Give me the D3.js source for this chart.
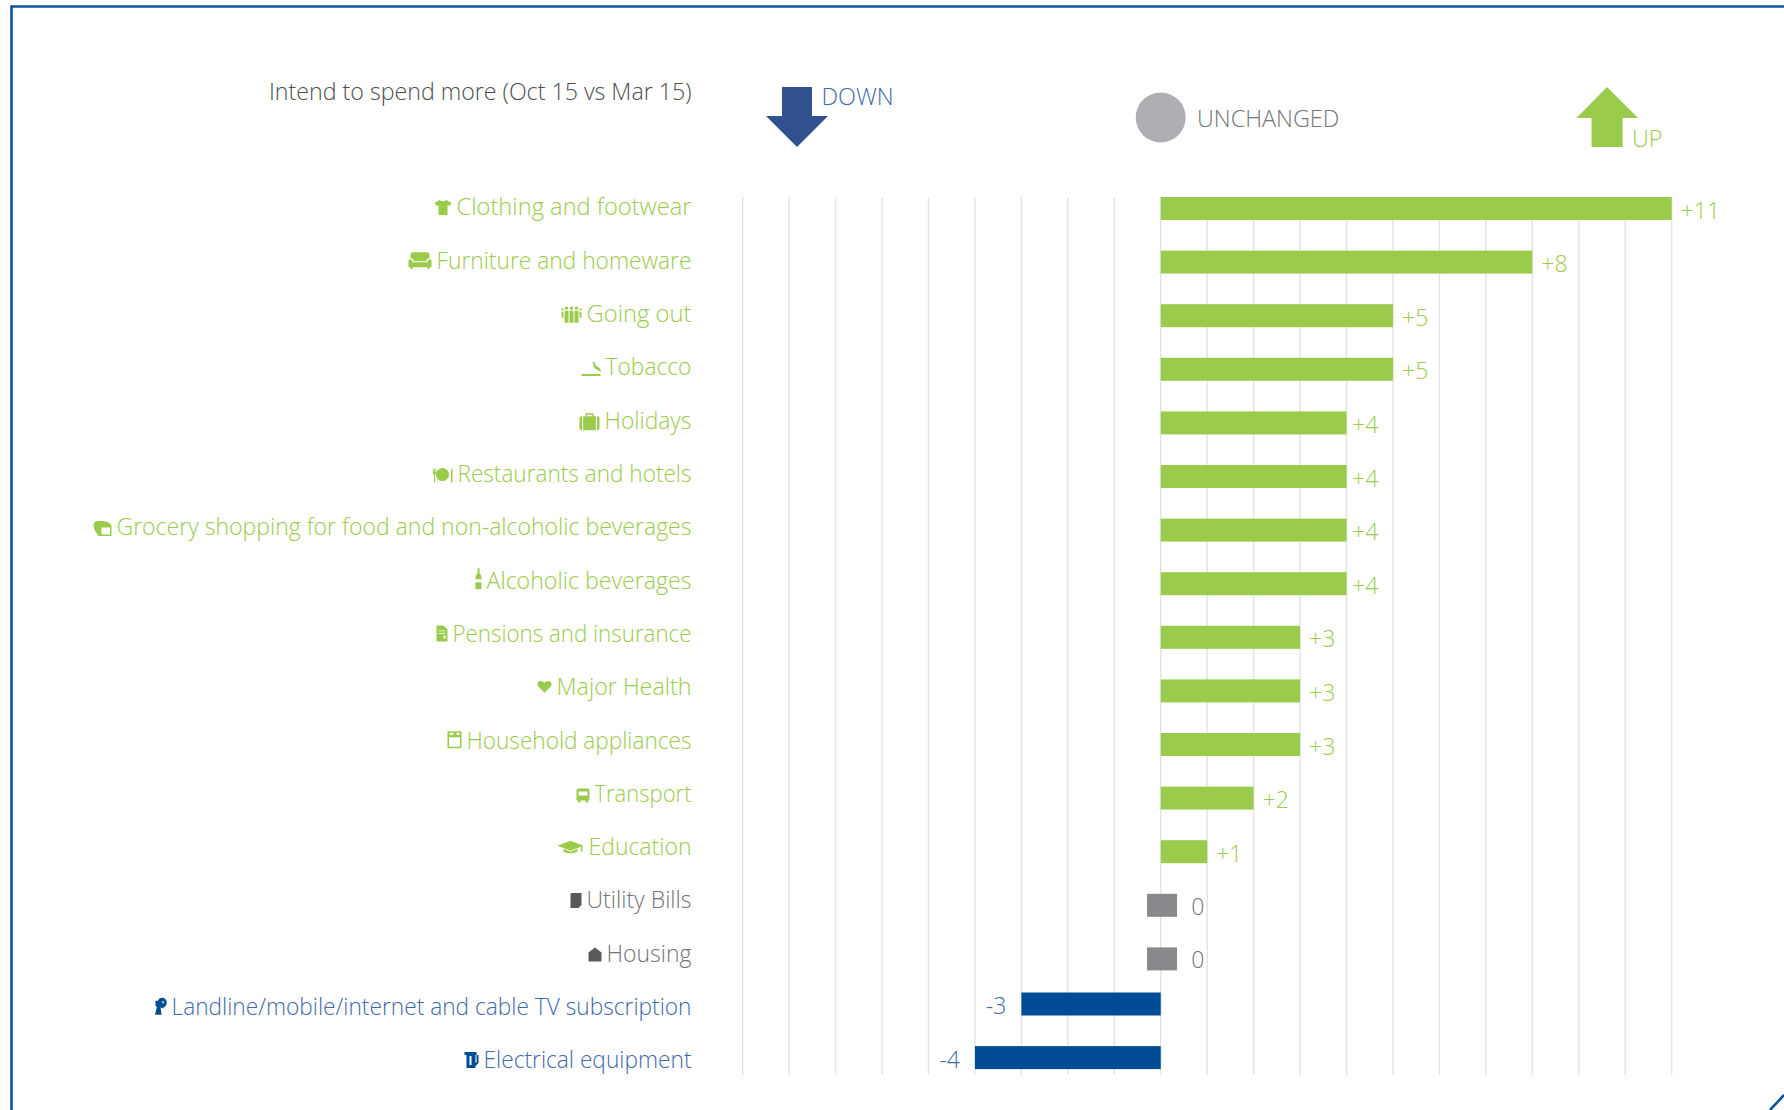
<!DOCTYPE html>
<html>
<head>
<meta charset="utf-8">
<script src="https://cdn.jsdelivr.net/npm/d3@7"></script>
<style>
  html, body { margin: 0; padding: 0; background: #fff; }
  svg { display: block; }
  text { font-family: "Open Sans", sans-serif; font-weight: 300; }
</style>
</head>
<body>
<svg id="chart" width="1784" height="1110"></svg>
<script>
// Spending intentions by category, net change between two survey waves
const categories = [
  "Clothing and footwear", "Furniture and homeware", "Going out", "Tobacco",
  "Holidays", "Restaurants and hotels",
  "Grocery shopping for food and non-alcoholic beverages", "Alcoholic beverages",
  "Pensions and insurance", "Major Health", "Household appliances", "Transport",
  "Education", "Utility Bills", "Housing",
  "Landline/mobile/internet and cable TV subscription", "Electrical equipment"
];
const values = [11, 8, 5, 5, 4, 4, 4, 4, 3, 3, 3, 2, 1, 0, 0, -3, -4];
const iconNames = [
  "shirt", "sofa", "people", "cigarette", "suitcase", "plate", "bread", "bottle",
  "document", "heart", "oven", "bus", "cap", "bill", "house", "dish", "kettle"
];
const titleText = "Intend to spend more (Oct 15 vs Mar 15)";
const legendLabels = ["DOWN", "UNCHANGED", "UP"];

// Left edge of each category label; the text is fitted between this and the right margin
const labelLeft = [458, 438, 588, 607, 606, 459, 118, 488, 454, 558, 468, 596, 590, 588, 608, 173, 485];

const GREEN = "#9bcb4b", BLUE = "#004b93", GREY_BAR = "#87898c";
const TEXT_BLUE = "#3f68ad", TEXT_GREY = "#737477";
const fillFor = v => v > 0 ? GREEN : v < 0 ? BLUE : GREY_BAR;
const textFor = v => v > 0 ? GREEN : v < 0 ? TEXT_BLUE : TEXT_GREY;
const iconFor = v => v > 0 ? GREEN : v < 0 ? BLUE : "#58595b";
const signed = v => v > 0 ? "+" + v : String(v);

// Pictogram outlines: [width, height, bottom offset from baseline, path]
const glyphs = {
  shirt: [17, 15, 0, "M5,0L0,3L2,6L4,5V15H13V5L15,6L17,3L12,0Q8.5,2.5 5,0Z"],
  sofa: [23, 17, 1, "M4,0H19Q21,0 21,3V6Q18,6 18,9H5Q5,6 2,6V3Q2,0 4,0ZM1,7Q4,7 4,10H19Q19,7 22,7Q23,7 23,9V15H0V9Q0,7 1,7ZM2,15h2v2h-2ZM19,15h2v2h-2Z"],
  people: [20, 17, 1, "M3,5h4v12h-4ZM8,5h4v12h-4ZM13,5h4v12h-4ZM0,6h2v6h-2ZM18,6h2v6h-2ZM5,0.8a1.7,1.7 0 1 0 .01,0ZM10,0.8a1.7,1.7 0 1 0 .01,0ZM15,0.8a1.7,1.7 0 1 0 .01,0ZM1,2.5a1.2,1.2 0 1 0 .01,0ZM19,2.5a1.2,1.2 0 1 0 .01,0Z"],
  cigarette: [19, 14, 1, "M0,12H19V14H0ZM11,0H13L14,3L19,7V10L13,6Z"],
  suitcase: [20, 18, 2, "M0,6Q0,4 2,4H2.6V18H2Q0,18 0,16ZM3.6,4H16.4V18H3.6ZM17.4,4H18Q20,4 20,6V16Q20,18 18,18H17.4ZM6,4V1H14V4H12.6V2.4H7.4V4Z"],
  plate: [20, 17, 1, "M10,2.5a6.5,6.5 0 1 0 .01,0ZM0,3h.8v3h.6V3h.8v3h.6V3h.8v5l-1,1V17H1.5V9l-1,-1ZM18.5,4L20,3V17H18.5Z"],
  bread: [18, 15, 1, "M0,3Q1,0 5,0H10Q16,1 18,4V15H5L1,9Q0,5 0,3ZM8,6.5H16.5V13.5H8Z"],
  bottle: [6, 21, 1, "M2,0H4V5Q6,7 6,9V21H0V9Q0,7 2,5ZM0,11H6V14H0Z"],
  document: [11, 16, 0, "M0,0H7L11,4V16H0ZM2,5H9V5.8H2ZM2,7.5H9V8.3H2ZM7,10h2v3h-2Z"],
  heart: [14, 12, -2, "M7,12L1,6Q-1,3 1,1Q4,-1 7,2Q10,-1 13,1Q15,3 13,6Z"],
  oven: [14, 17, 0, "M0,0H14V17H0ZM1.5,6H12.5V15.5H1.5ZM2,1.5h4v2h-4ZM9,1.5h3v2h-3Z"],
  bus: [13, 14, 1, "M2,0H11Q13,0 13,2V12H0V2Q0,0 2,0ZM2,3V7H11V3ZM1.5,12h2.5v2h-2.5ZM9,12h2.5v2H9Z"],
  cap: [26, 13, -1, "M0,5L13,0L26,5L13,10ZM6,8L13,11L20,8V11Q13,14 6,11ZM23.5,6V11H25V5.5Z"],
  bill: [11, 15, 0, "M1,0H11V12L8,15H0V1Z"],
  house: [13, 14, 0, "M6.5,0L13,5V14H0V5Z"],
  dish: [12, 17, 0, "M4.5,1Q10,-1.5 12,3Q13.5,8 8,10.5Q6.8,10 6,9.2L7,17H0.5L2.5,9L1,8.5V3H3.5Q4,2 4.5,1ZM7,4L9.5,3.5L9,6Z"],
  kettle: [14, 16, 0, "M0,0H12V3H11V16H2V3H0ZM5,4V13H7V4ZM12,3h2v8l-3,3V11l1.2,-1Z"]
};

const svg = d3.select("#chart");

// Outer frame with the clipped lower right corner
svg.append("path")
  .attr("d", "M11.5,1110V6.5H1784M1770,1110L1784,1095")
  .attr("fill", "none").attr("stroke", "#0c559f").attr("stroke-width", 2.6);

// Scales: one for the change in points, one each for bar rows and label rows
const x = d3.scaleLinear().domain([-9, 11]).range([742.7, 1671.7]);
const barY = d3.scalePoint().domain(categories).range([197, 1054.6]);
const labelY = d3.scalePoint().domain(categories).range([215.4, 1068.4]);
const BAR_H = 23;
const DOWN_SHIFT = -8.5;    // falling categories sit slightly closer to the row above
const ZERO_W = 30;          // unchanged categories get a short centred block
const rowTop = (c, v) => barY(c) + (v < 0 ? DOWN_SHIFT : 0);

// Vertical gridlines come from the axis ticks
const gridAxis = d3.axisBottom(x)
  .tickValues(d3.range(-9, 12))
  .tickSize(-(1075 - 197))
  .tickFormat("")
  .offset(0);
svg.append("g")
  .attr("transform", "translate(0,1075)")
  .call(gridAxis)
  .call(g => g.select(".domain").remove())
  .call(g => g.selectAll("line").attr("stroke", "#e2e3e4").attr("stroke-width", 1.4));

const rows = categories.map((c, i) => ({ c, v: values[i], icon: iconNames[i], left: labelLeft[i] }));

// Bars
svg.append("g").selectAll("rect").data(rows).join("rect")
  .attr("x", d => d.v === 0 ? x(0) + 1.3 - ZERO_W / 2 : Math.min(x(0), x(d.v)))
  .attr("y", d => rowTop(d.c, d.v))
  .attr("width", d => d.v === 0 ? ZERO_W : Math.abs(x(d.v) - x(0)))
  .attr("height", BAR_H)
  .attr("fill", d => fillFor(d.v));

// Value labels; the +4 group hugs its bars a little tighter
svg.append("g").selectAll("text").data(rows).join("text")
  .attr("x", d => d.v > 0 ? x(d.v) + (d.v === 4 ? 5.5 : 9) : d.v < 0 ? x(d.v) - 15 : x(0) + 30.5)
  .attr("y", d => rowTop(d.c, d.v) + (d.v === 0 ? 21 : 21.5))
  .attr("text-anchor", d => d.v < 0 ? "end" : "start")
  .attr("font-size", 23)
  .attr("fill", d => textFor(d.v))
  .text(d => signed(d.v));

// Category labels, each with its pictogram just left of the text
const LABEL_RIGHT = 691.5, BEARING = 1.5, ICON_GAP = 6.5;
const labels = svg.append("g").selectAll("g").data(rows).join("g");
labels.append("text")
  .attr("x", d => d.left - BEARING)
  .attr("y", d => labelY(d.c))
  .attr("textLength", d => LABEL_RIGHT - d.left + BEARING)
  .attr("lengthAdjust", "spacingAndGlyphs")
  .attr("font-size", 23.4)
  .attr("fill", d => textFor(d.v))
  .text(d => d.c);
labels.append("path")
  .attr("d", d => glyphs[d.icon][3])
  .attr("fill-rule", "evenodd")
  .attr("fill", d => iconFor(d.v))
  .attr("transform", d => {
    const [w, h, below] = glyphs[d.icon];
    return `translate(${d.left - ICON_GAP - w},${labelY(d.c) - 0.4 + below - h})`;
  });

// Heading
svg.append("text")
  .attr("x", 269).attr("y", 100)
  .attr("textLength", 422.5)
  .attr("lengthAdjust", "spacingAndGlyphs")
  .attr("font-size", 23.4)
  .attr("fill", "#4d4e50")
  .text(titleText);

// Legend: arrow down, neutral dot, arrow up
svg.append("path").attr("d", "M782,87H812V116H828L797,147L766,116H782Z").attr("fill", "#32528f");
svg.append("text").attr("x", 821.5).attr("y", 105).attr("font-size", 23.4).attr("fill", TEXT_BLUE).text(legendLabels[0]);
svg.append("circle").attr("cx", 1160.7).attr("cy", 117.5).attr("r", 25).attr("fill", "#aeafb3");
svg.append("text").attr("x", 1197).attr("y", 126.5).attr("font-size", 23.4).attr("fill", TEXT_GREY).text(legendLabels[1]);
svg.append("path").attr("d", "M1607,87L1638,118H1622.6V147H1591.6V118H1576.4Z").attr("fill", GREEN);
svg.append("text").attr("x", 1632).attr("y", 146.5).attr("font-size", 23.4).attr("fill", GREEN).text(legendLabels[2]);
</script>
</body>
</html>
